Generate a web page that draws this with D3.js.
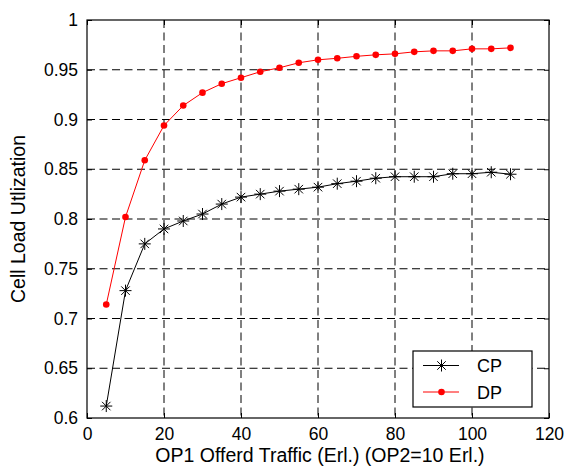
<!DOCTYPE html>
<html>
<head>
<meta charset="utf-8">
<script src="https://cdn.jsdelivr.net/npm/d3@7"></script>
<style>
  body { margin: 0; background: #fff; }
  text { font-family: "Liberation Sans", Arial, sans-serif; }
</style>
</head>
<body>
<svg id="chart"></svg>
<script>
var traffic = [5, 10, 15, 20, 25, 30, 35, 40, 45, 50, 55, 60, 65, 70, 75, 80, 85, 90, 95, 100, 105, 110];
var cpValues = [0.612, 0.728, 0.775, 0.790, 0.798, 0.805, 0.815, 0.822, 0.825, 0.828, 0.830, 0.832,
    0.8355, 0.838, 0.841, 0.8425, 0.8425, 0.8425, 0.8455, 0.8455, 0.847, 0.845];
var dpValues = [0.714, 0.802, 0.859, 0.894, 0.914, 0.927, 0.936, 0.942, 0.948, 0.952, 0.957, 0.960,
    0.9615, 0.9635, 0.965, 0.966, 0.968, 0.969, 0.969, 0.971, 0.971, 0.972];
var xTicks = [0, 20, 40, 60, 80, 100, 120];
var yTicks = [0.6, 0.65, 0.7, 0.75, 0.8, 0.85, 0.9, 0.95, 1];
var seriesNames = ["CP", "DP"];

var width = 568, height = 468;
var margin = { top: 20, right: 19, bottom: 50, left: 87 };
var w = width - margin.left - margin.right;
var h = height - margin.top - margin.bottom;

var svg = d3.select("#chart")
    .attr("width", width)
    .attr("height", height)
    .append("g")
    .attr("transform", "translate(" + margin.left + "," + margin.top + ")");

var xscale = d3.scaleLinear().domain([0, 120]).range([0, w]);
var yscale = d3.scaleLinear().domain([0.6, 1]).range([h, 0]);

// grid lines
svg.selectAll("line.ygrid")
    .data(yTicks.slice(1, -1))
    .enter()
    .append("line")
    .attr("class", "ygrid")
    .attr("x1", 0)
    .attr("x2", w)
    .attr("y1", function (d) { return yscale(d); })
    .attr("y2", function (d) { return yscale(d); })
    .attr("stroke", "#000")
    .attr("stroke-width", 1)
    .attr("stroke-dasharray", "8,4.5");
svg.selectAll("line.xgrid")
    .data(xTicks.slice(1, -1))
    .enter()
    .append("line")
    .attr("class", "xgrid")
    .attr("x1", function (d) { return xscale(d); })
    .attr("x2", function (d) { return xscale(d); })
    .attr("y1", 0)
    .attr("y2", h)
    .attr("stroke", "#000")
    .attr("stroke-width", 1)
    .attr("stroke-dasharray", "8,4.5");

// axes (ticks inward)
function styleAxis(g, hideText) {
    g.select(".domain").remove();
    g.selectAll(".tick line").attr("stroke", "#000");
    g.selectAll(".tick text")
        .style("font-size", "17.5px")
        .attr("fill", "#000");
    if (hideText) g.selectAll(".tick text").remove();
}
svg.append("g")
    .attr("transform", "translate(0," + h + ")")
    .call(d3.axisBottom(xscale).tickValues(xTicks).tickSize(-5).tickPadding(10).tickFormat(d3.format("d")))
    .call(styleAxis, false);
svg.append("g")
    .call(d3.axisTop(xscale).tickValues(xTicks).tickSize(-5))
    .call(styleAxis, true);
svg.append("g")
    .call(d3.axisLeft(yscale).tickValues(yTicks).tickSize(-5).tickPadding(9).tickFormat(function (d) { return String(+d.toFixed(2)); }))
    .call(styleAxis, false);
svg.append("g")
    .attr("transform", "translate(" + w + ",0)")
    .call(d3.axisRight(yscale).tickValues(yTicks).tickSize(-5))
    .call(styleAxis, true);

// frame
svg.append("rect")
    .attr("width", w)
    .attr("height", h)
    .style("fill", "none")
    .style("stroke", "black")
    .style("stroke-width", 1.2);

// series
var line = d3.line()
    .x(function (d) { return xscale(d[0]); })
    .y(function (d) { return yscale(d[1]); });
var cpData = d3.zip(traffic, cpValues);
var dpData = d3.zip(traffic, dpValues);

function starPath(r) {
    var p = "";
    for (var i = 0; i < 4; i++) {
        var a = i * Math.PI / 4;
        var dx = r * Math.sin(a), dy = r * Math.cos(a);
        p += "M" + (-dx) + "," + (-dy) + "L" + dx + "," + dy;
    }
    return p;
}

svg.append("path")
    .datum(cpData)
    .attr("d", line)
    .attr("fill", "none")
    .attr("stroke", "#000")
    .attr("stroke-width", 1);
svg.selectAll("path.star")
    .data(cpData)
    .enter()
    .append("path")
    .attr("class", "star")
    .attr("transform", function (d) { return "translate(" + xscale(d[0]) + "," + yscale(d[1]) + ")"; })
    .attr("d", starPath(6))
    .attr("stroke", "#000")
    .attr("stroke-width", 1);

svg.append("path")
    .datum(dpData)
    .attr("d", line)
    .attr("fill", "none")
    .attr("stroke", "#ff0000")
    .attr("stroke-width", 1);
svg.selectAll("circle.dot")
    .data(dpData)
    .enter()
    .append("circle")
    .attr("class", "dot")
    .attr("cx", function (d) { return xscale(d[0]); })
    .attr("cy", function (d) { return yscale(d[1]); })
    .attr("r", 3.3)
    .attr("fill", "#ff0000");

// axis labels
svg.append("text")
    .attr("x", w / 2 + 2)
    .attr("y", h + 44)
    .attr("text-anchor", "middle")
    .style("font-size", "19.5px")
    .text("OP1 Offerd Traffic (Erl.) (OP2=10 Erl.)");
svg.append("text")
    .attr("transform", "translate(" + (-62) + "," + (h / 2) + ") rotate(-90)")
    .attr("text-anchor", "middle")
    .style("font-size", "19.5px")
    .text("Cell Load Utlization");

// legend
var lx = 413 - margin.left, ly = 351 - margin.top;
var legend = svg.append("g").attr("transform", "translate(" + lx + "," + ly + ")");
legend.append("rect")
    .attr("width", 119)
    .attr("height", 56)
    .attr("fill", "#fff")
    .attr("stroke", "#000")
    .attr("stroke-width", 1.2);
seriesNames.forEach(function (name, i) {
    var yy = 14.5 + i * 26.5;
    var col = i === 0 ? "#000" : "#ff0000";
    legend.append("line")
        .attr("x1", 10).attr("x2", 46)
        .attr("y1", yy).attr("y2", yy)
        .attr("stroke", col).attr("stroke-width", 1);
    if (i === 0) {
        legend.append("path")
            .attr("transform", "translate(28.5," + yy + ")")
            .attr("d", starPath(6))
            .attr("stroke", col);
    } else {
        legend.append("circle")
            .attr("cx", 28.5).attr("cy", yy).attr("r", 3.3)
            .attr("fill", col);
    }
    legend.append("text")
        .attr("x", 64)
        .attr("y", yy + 6.5)
        .style("font-size", "18px")
        .text(name);
});
</script>
</body>
</html>
